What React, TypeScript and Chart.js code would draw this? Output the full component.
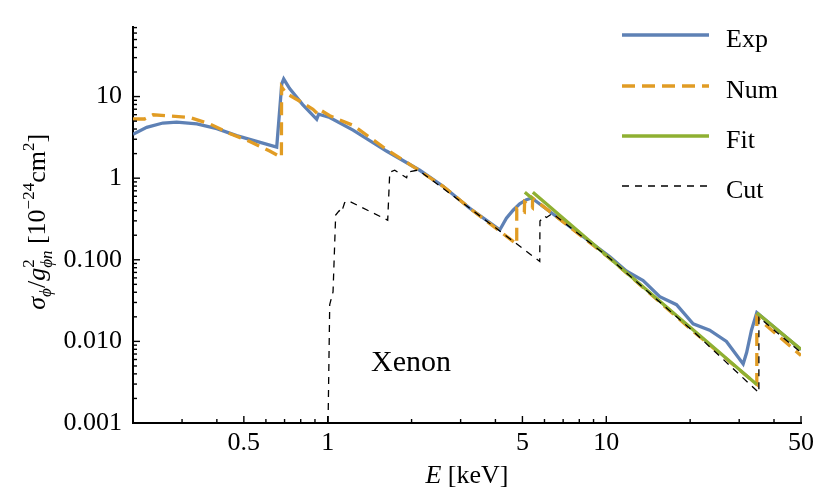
import React, { useEffect, useRef } from "react";
import { Chart, registerables } from "chart.js";

Chart.register(...registerables);

const SERIF = "'Liberation Serif', 'Times New Roman', Times, serif";

// ---------- data (E in keV, sigma in 1e-24 cm^2) ----------
const expE = [0.2, 0.224, 0.256, 0.287, 0.339, 0.4, 0.471, 0.556, 0.656, 0.684, 0.695, 0.73, 0.813, 0.913, 0.928, 1.017, 1.233, 1.625, 2.14, 2.594, 3.235, 4.146, 4.38, 4.63, 4.89, 5.17, 5.4, 10.3, 11.8, 13.56, 15.56, 17.87, 20.5, 23.5, 27.0, 31.0, 31.9, 33.2, 34.7, 50];
const expSigma = [3.45, 4.2, 4.74, 4.85, 4.63, 4.05, 3.32, 2.82, 2.4, 14.3, 16.4, 12.5, 7.96, 5.26, 6.07, 5.55, 3.88, 2.15, 1.25, 0.796, 0.428, 0.232, 0.323, 0.405, 0.485, 0.545, 0.571, 0.109, 0.0728, 0.0556, 0.0353, 0.0282, 0.0164, 0.0137, 0.01, 0.0053, 0.0073, 0.0137, 0.0225, 0.0079];

const numE = [0.2, 0.22, 0.236, 0.3195, 0.377, 0.4446, 0.525, 0.619, 0.682, 0.683, 0.711, 0.815, 0.885, 0.918, 0.941, 1.017, 1.233, 1.625, 2.08, 2.594, 3.235, 4.77, 4.771, 5.08, 5.09, 5.43, 5.44, 10.3, 20.5, 34.7, 34.71, 50];
const numSigma = [5.31, 5.31, 5.98, 5.56, 4.63, 3.53, 2.82, 2.15, 1.8, 13.1, 10.9, 8.34, 6.96, 6.19, 6.84, 5.82, 4.44, 2.25, 1.31, 0.796, 0.428, 0.1555, 0.424, 0.385, 0.512, 0.434, 0.571, 0.104, 0.0133, 0.00298, 0.0197, 0.00671];

const fitE = [5.1, 5.45, 5.45, 5.45, 34.7, 34.7, 34.7, 50];
const fitSigma = [0.672, 0.556, null, 0.672, 0.00296, null, 0.0225, 0.00797];

const cutE = [1.003, 1.0167, 1.045, 1.068, 1.1, 1.12, 1.15, 1.183, 1.642, 1.67, 1.74, 1.92, 1.94, 2.09, 2.19, 3.235, 5.77, 5.78, 6.0, 6.1, 6.4, 10.3, 20.5, 35.3, 35.31, 50];
const cutSigma = [0.001, 0.0282, 0.0405, 0.353, 0.4, 0.38, 0.5, 0.53, 0.306, 1.186, 1.25, 1.01, 1.186, 1.25, 1.15, 0.428, 0.0955, 0.298, 0.345, 0.33, 0.37, 0.104, 0.0133, 0.00235, 0.0197, 0.00729];

const seriesLabels = ["Exp", "Num", "Fit", "Cut"];

// ---------- ticks ----------
const xTickValues = [0.5, 1, 5, 10, 50];
const xTickLabels = ["0.5", "1", "5", "10", "50"];
const xMinorTicks = [0.3, 0.4, 0.6, 0.7, 0.8, 0.9, 2, 3, 4, 6, 7, 8, 9, 20, 30, 40];
const yTickValues = [0.001, 0.01, 0.1, 1, 10];
const yTickLabels = ["0.001", "0.010", "0.100", "1", "10"];
const yMinorMantissas = [2, 3, 4, 5, 6, 7, 8, 9];
const yDecades = [0.001, 0.01, 0.1, 1, 10];

const zip = (xs: number[], ys: (number | null)[]) => xs.map((x, i) => ({ x, y: ys[i] }));

const font = (size: number, italic = false) => `${italic ? "italic " : ""}${size}px ${SERIF}`;

type Part = { t?: string; italic?: boolean; size?: number; dy?: number; stack?: Part[] };

function measurePart(ctx: CanvasRenderingContext2D, p: Part): number {
  if (p.stack) return Math.max(...p.stack.map((q) => measurePart(ctx, q)));
  ctx.font = font(p.size ?? 26, p.italic);
  return ctx.measureText(p.t ?? "").width;
}
function drawPart(ctx: CanvasRenderingContext2D, p: Part, x: number) {
  if (p.stack) {
    p.stack.forEach((q) => drawPart(ctx, q, x));
    return;
  }
  ctx.font = font(p.size ?? 26, p.italic);
  ctx.fillText(p.t ?? "", x, p.dy ?? 0);
}
function drawRich(ctx: CanvasRenderingContext2D, parts: Part[], cx: number) {
  const widths = parts.map((p) => measurePart(ctx, p));
  const total = widths.reduce((a, b) => a + b, 0);
  let x = cx - total / 2;
  parts.forEach((p, i) => {
    drawPart(ctx, p, x);
    x += widths[i];
  });
}

const yTitle: Part[] = [
  { t: "σ", italic: true },
  { t: "ϕ", italic: true, size: 17, dy: 6 },
  { t: "/" },
  { t: "g", italic: true },
  { stack: [ { t: "2", size: 17, dy: -11 }, { t: "ϕn", italic: true, size: 17, dy: 7 } ] },
  { t: " [10" },
  { t: "−24", size: 17, dy: -11 },
  { t: "cm" },
  { t: "2", size: 17, dy: -11 },
  { t: "]" },
];
const xTitle: Part[] = [{ t: "E", italic: true }, { t: " [keV]" }];

const decorPlugin = {
  id: "decor",
  afterDraw(chart: any) {
    const { ctx, chartArea } = chart;
    const { left, bottom } = chartArea;
    const xs = chart.scales.x;
    const ys = chart.scales.y;
    ctx.save();
    ctx.strokeStyle = "#000";
    ctx.lineWidth = 1.4;
    const xTick = (v: number, len: number) => {
      const p = xs.getPixelForValue(v);
      ctx.beginPath();
      ctx.moveTo(p, bottom);
      ctx.lineTo(p, bottom - len);
      ctx.stroke();
    };
    const yTick = (v: number, len: number) => {
      const p = ys.getPixelForValue(v);
      ctx.beginPath();
      ctx.moveTo(left, p);
      ctx.lineTo(left + len, p);
      ctx.stroke();
    };
    xTickValues.forEach((v) => xTick(v, 7));
    xMinorTicks.forEach((v) => xTick(v, 4));
    yTickValues.forEach((v) => yTick(v, 7));
    yDecades.forEach((d) =>
      yMinorMantissas.forEach((m) => {
        const v = d * m;
        if (v < ys.max) yTick(v, 4);
      })
    );

    ctx.fillStyle = "#000";
    ctx.textAlign = "left";
    ctx.textBaseline = "alphabetic";

    // legend
    const rowsY = [35, 86, 136, 186];
    chart.data.datasets.forEach((ds: any, i: number) => {
      const y = rowsY[i];
      ctx.save();
      ctx.strokeStyle = ds.borderColor;
      ctx.lineWidth = ds.borderWidth;
      ctx.setLineDash(ds.borderDash || []);
      ctx.beginPath();
      ctx.moveTo(622, y);
      ctx.lineTo(709, y);
      ctx.stroke();
      ctx.restore();
      ctx.font = font(26);
      ctx.fillText(ds.label, 726, y + 12);
    });

    // Xenon label
    ctx.font = font(30);
    ctx.fillText("Xenon", 371, 371);

    // x title
    ctx.save();
    ctx.translate(0, 483);
    drawRich(ctx, xTitle, (chartArea.left + chartArea.right) / 2);
    ctx.restore();

    // y title
    ctx.save();
    ctx.translate(45, (chartArea.top + chartArea.bottom) / 2 - 3);
    ctx.rotate(-Math.PI / 2);
    drawRich(ctx, yTitle, 0);
    ctx.restore();

    ctx.restore();
  },
};

export default function App() {
  const ref = useRef<HTMLCanvasElement>(null);
  useEffect(() => {
    if (!ref.current) return;
    const chart = new Chart(ref.current, {
      type: "line",
      data: {
        datasets: [
          { label: seriesLabels[0], data: zip(expE, expSigma), borderColor: "#5E81B5", borderWidth: 3.3, pointRadius: 0, tension: 0, spanGaps: false, order: 4 },
          { label: seriesLabels[1], data: zip(numE, numSigma), borderColor: "#E19C24", borderWidth: 3.3, borderDash: [13, 7], pointRadius: 0, tension: 0, spanGaps: false, order: 3 },
          { label: seriesLabels[2], data: zip(fitE, fitSigma), borderColor: "#8FB032", borderWidth: 3.3, pointRadius: 0, tension: 0, spanGaps: false, order: 2 },
          { label: seriesLabels[3], data: zip(cutE, cutSigma), borderColor: "#000000", borderWidth: 1.3, borderDash: [7, 6], pointRadius: 0, tension: 0, spanGaps: false, order: 1 },
        ] as any,
      },
      options: {
        responsive: false,
        animation: false,
        devicePixelRatio: 1,
        layout: { padding: { top: 10, right: 19, left: 0, bottom: 0 } },
        plugins: { legend: { display: false }, tooltip: { enabled: false } },
        scales: {
          x: {
            type: "logarithmic",
            min: 0.2,
            max: 50,
            grid: { display: false, drawTicks: false },
            border: { display: true, color: "#000", width: 2 },
            afterBuildTicks: (s: any) => {
              s.ticks = xTickValues.map((v) => ({ value: v }));
            },
            afterFit: (s: any) => {
              s.height = 76;
            },
            ticks: {
              autoSkip: false,
              maxRotation: 0,
              padding: 5,
              color: "#000",
              font: { family: SERIF, size: 26 },
              callback: (_v: any, i: number) => xTickLabels[i],
            },
          },
          y: {
            type: "logarithmic",
            min: 0.001,
            max: 72,
            grid: { display: false, drawTicks: false },
            border: { display: true, color: "#000", width: 2 },
            afterBuildTicks: (s: any) => {
              s.ticks = yTickValues.map((v) => ({ value: v }));
            },
            afterFit: (s: any) => {
              s.width = 133;
            },
            ticks: {
              autoSkip: false,
              padding: 11,
              color: "#000",
              font: { family: SERIF, size: 26 },
              callback: (_v: any, i: number) => yTickLabels[i],
            },
          },
        },
      } as any,
      plugins: [decorPlugin],
    });
    return () => chart.destroy();
  }, []);
  return (
    <div style={{ position: "absolute", left: 0, top: 0, width: 820, height: 499, background: "#fff" }}>
      <canvas ref={ref} width={820} height={499} style={{ display: "block" }} />
    </div>
  );
}
